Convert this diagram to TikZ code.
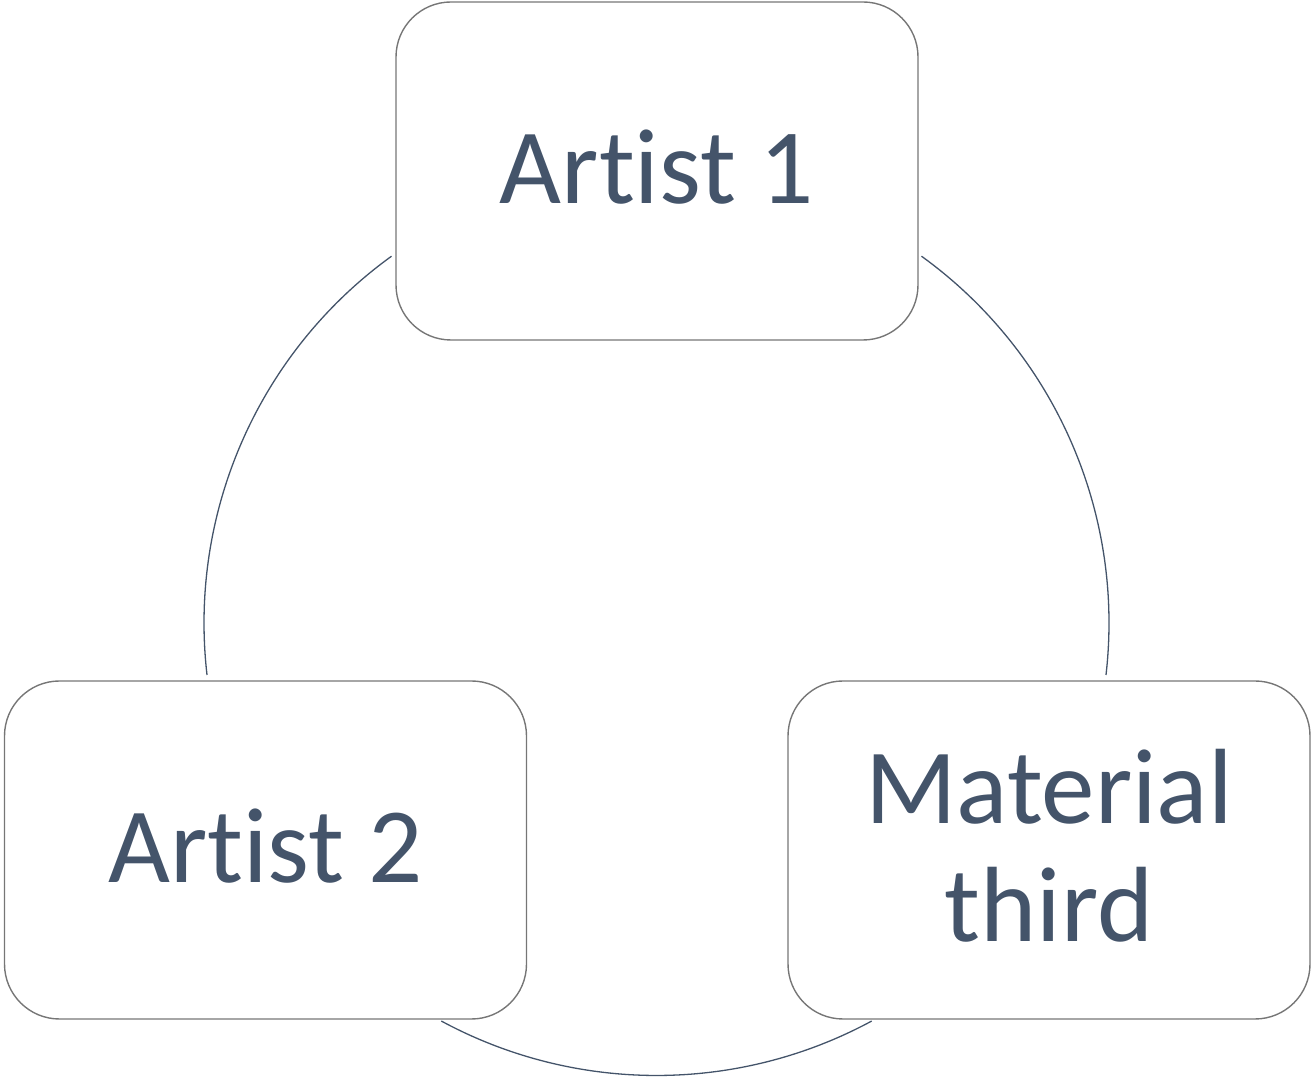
\documentclass[tikz,border=0pt]{standalone}
\usepackage{fontspec}
\setmainfont{Carlito}[Ligatures=NoCommon]
\definecolor{txtcol}{HTML}{44546A}
\definecolor{boxcol}{HTML}{767676}
\begin{document}
\begin{tikzpicture}[x=1pt,y=1pt,
  cyclebox/.style={draw=boxcol, line width=1.4pt, rounded corners=55pt,
    minimum width=522pt, minimum height=338pt, inner sep=0pt, text depth=9pt,
    align=center, text=txtcol, font=\fontsize{107}{118}\selectfont},
  ring/.style={draw=txtcol, line width=1.3pt}]
\useasboundingbox (0,0) rectangle (1311,1081);
\node[cyclebox] (a1) at (657,910) {Artist 1};
\node[cyclebox] (a2) at (265.5,231) {Artist 2};
\node[cyclebox] (mt) at (1049,231) {Material\\third};
\coordinate (c) at (656.5,458);
\draw[ring] (c) ++(54.15:452.5) arc[start angle=54.15, end angle=-6.6, radius=452.5];
\draw[ring] (c) ++(-61.6:452.5) arc[start angle=-61.6, end angle=-118.4, radius=452.5];
\draw[ring] (c) ++(186.6:452.5) arc[start angle=186.6, end angle=125.85, radius=452.5];
\end{tikzpicture}
\end{document}
